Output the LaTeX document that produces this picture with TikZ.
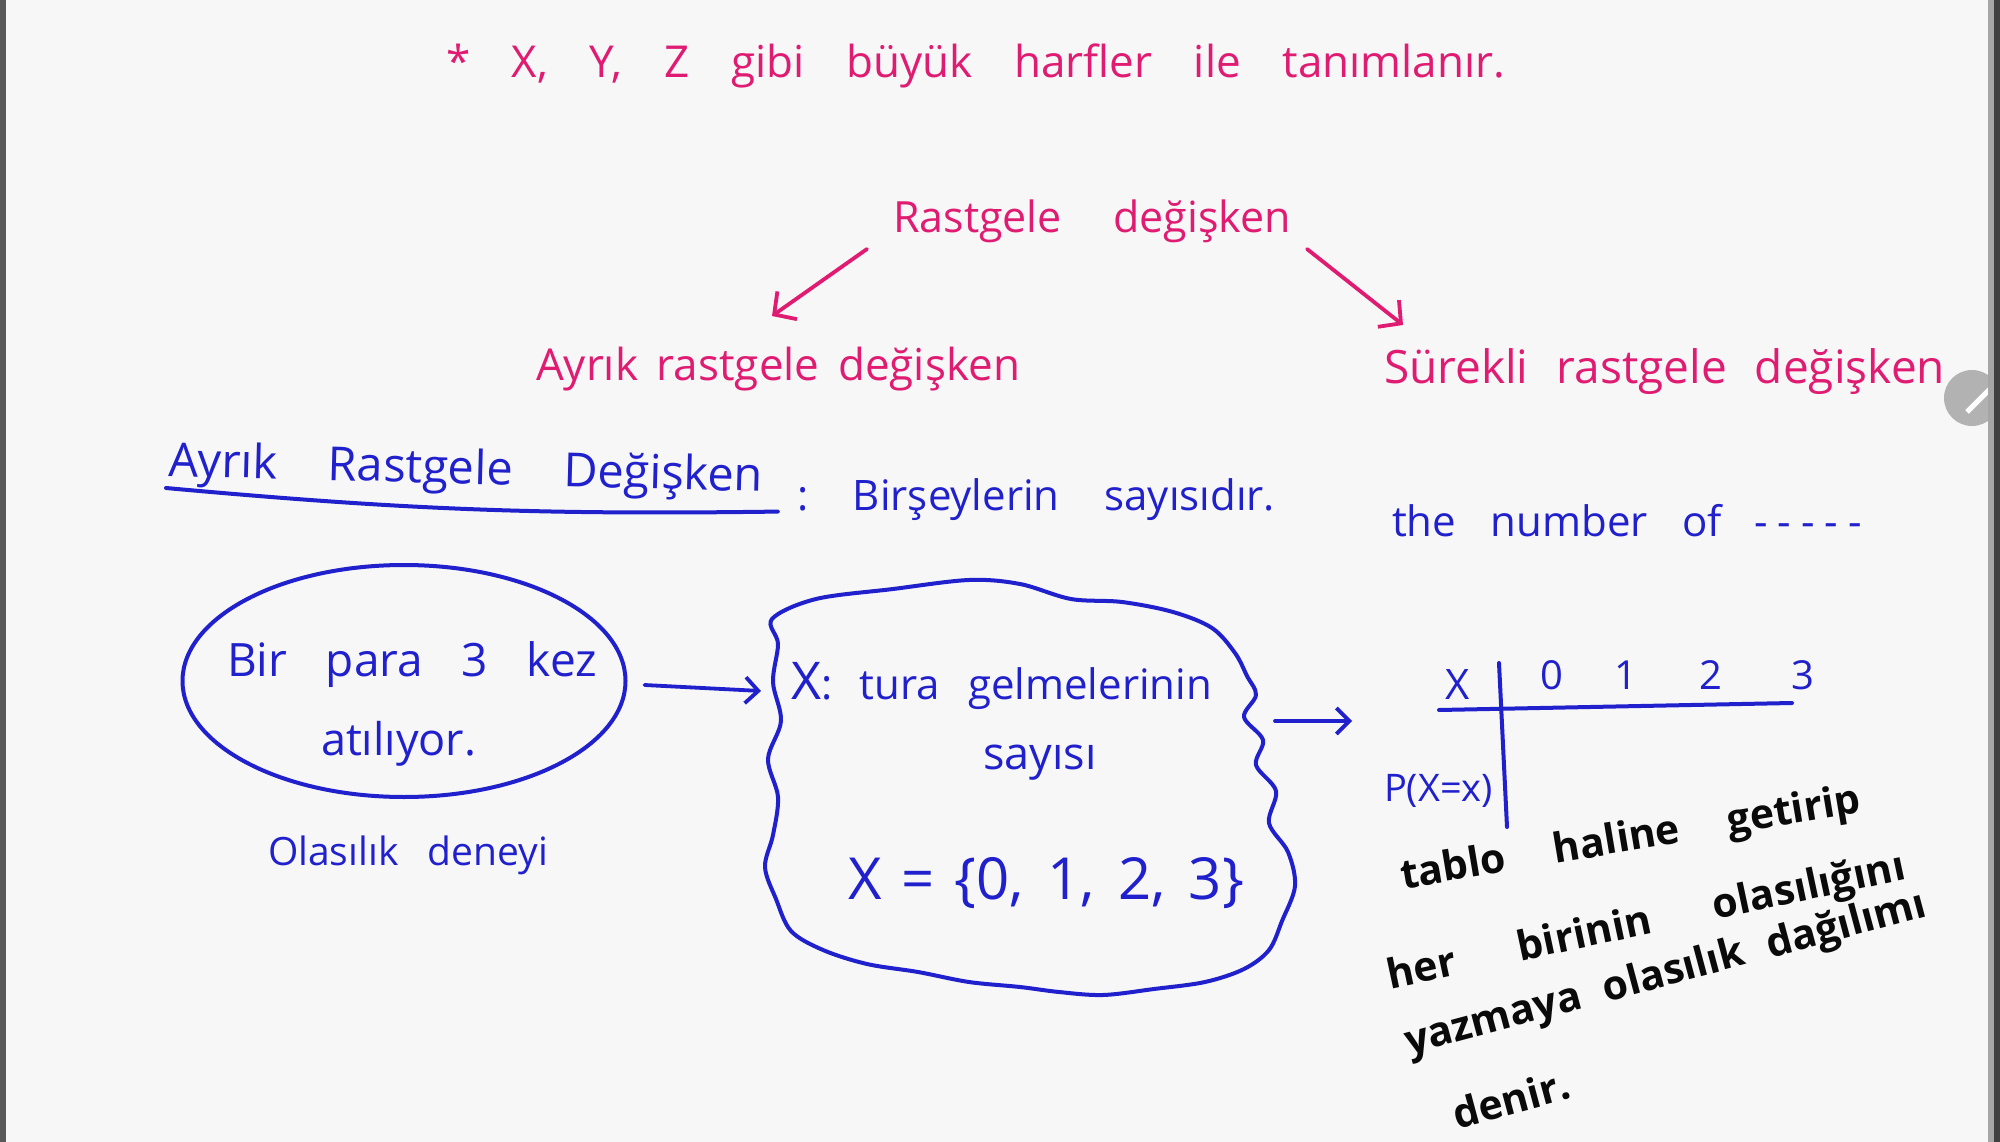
\documentclass[tikz,border=0pt]{standalone}
\usepackage{fontspec}
\setmainfont{Open Sans}
\usetikzlibrary{arrows.meta,shapes.geometric,calc}
\definecolor{pk}{RGB}{224,28,114}
\definecolor{bl}{RGB}{32,32,205}
\definecolor{bk}{RGB}{10,10,10}
\definecolor{bg}{RGB}{247,247,247}
\newcommand\spr[2]{\hbox to #1pt{\spaceskip=0.1em plus 1fil\xspaceskip=0.1em plus 1fil\relax #2}}
\begin{document}
\begin{tikzpicture}[x=1pt,y=-1pt,
  every node/.style={inner sep=0pt,outer sep=0pt},
  pinkt/.style={text=pk,font=\fontsize{43}{46}\selectfont,anchor=base west},
  bluet/.style={text=bl,font=\fontsize{42}{46}\selectfont,anchor=base west},
  blackt/.style={text=bk,font=\bfseries\fontsize{41}{45}\selectfont,anchor=base west},
  parr/.style={draw=pk,line width=3.8pt,line cap=round,line join=round,-{Straight Barb[length=16pt,width=34pt]}},
  barr/.style={draw=bl,line width=3.8pt,line cap=round,line join=round,-{Straight Barb[length=13pt,width=26pt]}},
  bline/.style={draw=bl,line width=4pt,line cap=round,line join=round}]
\useasboundingbox (0,0) rectangle (2000,1142);
\fill[bg] (0,0) rectangle (2000,1142);
% pencil icon
\fill[black!30] (1972,398) circle (28);
\draw[white,line width=5pt] (1967,412) -- (1992,387);
\fill[black!35] (1988,0) rectangle (1994,1142);
\fill[black!75] (1994,0) rectangle (2000,1142);
\fill[black!65] (0,0) rectangle (6,1142);

% pink part
\node[pinkt,font=\fontsize{44}{48}\selectfont] (top) at (446,78) {\spr{1059}{* X, Y, Z gibi büyük harfler ile tanımlanır.}};
\node[pinkt] (rd) at (893,233) {\spr{398}{Rastgele değişken}};
\node[pinkt,font=\fontsize{44}{48}\selectfont] (ard) at (536,380) {\spr{484}{Ayrık rastgele değişken}};
\node[pinkt,font=\fontsize{46}{50}\selectfont] (srd) at (1384,383) {\spr{561}{Sürekli rastgele değişken}};
\draw[parr] ($(rd.base west)+(-26,16)$) -- ($(ard.base west)+(236,-64)$);
\draw[parr] ($(rd.base east)+(16,16)$) -- ($(srd.base west)+(19,-58)$);

% blue heading
\node[bluet,font=\fontsize{47}{50}\selectfont,rotate=-1.5] (hd) at (168,476) {\spr{595}{Ayrık Rastgele Değişken}};
\draw[bline] ($(hd.base west)+(-2,12)$) to[bend right=3] ($(hd.base east)+(15,20)$);
\node[bluet] (bs) at (797,510) {\spr{478}{: Birşeylerin sayısıdır.}};
\node[bluet] (tn) at (1392,536) {\spr{330}{the number of}\hspace{32pt}\spr{108}{- - - - -}};

% ellipse
\node[draw=bl,line width=4pt,ellipse,minimum width=443pt,minimum height=232pt] (ell) at (404,681) {};
\node[bluet,font=\fontsize{46}{50}\selectfont] (e1) at (227,676) {\spr{370}{Bir para 3 kez}};
\node[bluet,font=\fontsize{45}{50}\selectfont] (e2) at (321,755) {atılıyor.};
\node[bluet,font=\fontsize{39}{44}\selectfont] (od) at (268,865) {\spr{280}{Olasılık deneyi}};

% cloud
\node[minimum width=530pt,minimum height=416pt] (cloud) at (1030,787) {};
\draw[bline] plot[smooth cycle,tension=0.55] coordinates {
 (772,619) (816,599) (893,589) (969,580) (1020,584) (1071,599) (1122,602)
 (1173,612) (1212,628) (1235,653) (1247,676) (1256,695) (1244,717) (1263,740)
 (1256,765) (1276,791) (1269,823) (1288,852) (1295,886) (1282,921) (1269,950)
 (1244,969) (1205,982) (1154,989) (1103,995) (1059,992) (1020,987) (969,982)
 (918,972) (867,964) (823,950) (791,931) (776,899) (765,867) (773,835)
 (778,797) (768,759) (781,721) (773,682) (778,644)};
\node[bluet] (c1) at (791,699) {\spr{421}{{\fontsize{52}{56}\selectfont X}: tura gelmelerinin}};
\node[bluet,anchor=base,font=\fontsize{45}{50}\selectfont] (c2) at (1040,769) {sayısı};
\node[bluet,font=\fontsize{58}{62}\selectfont] (c3) at (848,899) {\spr{396}{X = \{0, 1, 2, 3\}}};
\draw[barr] ($(ell.east)+(19,4)$) -- ($(cloud.west)+(-4,-96)$);

% table
\node[bluet,anchor=base,font=\fontsize{42}{46}\selectfont] (tX) at (1458,699) {X};
\node[bluet,anchor=base,font=\fontsize{40}{44}\selectfont] (t0) at (1552,689) {0};
\node[bluet,anchor=base,font=\fontsize{40}{44}\selectfont] (t1) at (1626,689) {1};
\node[bluet,anchor=base,font=\fontsize{40}{44}\selectfont] (t2) at (1711,689) {2};
\node[bluet,anchor=base,font=\fontsize{40}{44}\selectfont] (t3) at (1803,689) {3};
\node[bluet,font=\fontsize{38}{42}\selectfont] (tP) at (1384,801) {P(X=x)};
\coordinate (h1) at (1439,710);
\coordinate (h2) at (1792,703);
\coordinate (v1) at (1499,663);
\coordinate (v2) at (1507,827);
\draw[bline] (h1) -- (h2);
\draw[bline] (v1) -- (v2);
\draw[barr] ($(cloud.east)+(-20,-66)$) -- ($(tX.base)+(-106,22)$);

% black note
\node[blackt,rotate=9.5] (b1) at (1403,889) {\spr{466}{tablo haline getirip}};
\node[blackt,rotate=12] (b2) at (1390,989) {\spr{529}{her birinin olasılığını}};
\node[blackt,rotate=15] (b3) at (1409,1055) {\spr{538}{yazmaya olasılık dağılımı}};
\node[blackt,rotate=15] (b4) at (1457,1129) {denir.};
\end{tikzpicture}
\end{document}
